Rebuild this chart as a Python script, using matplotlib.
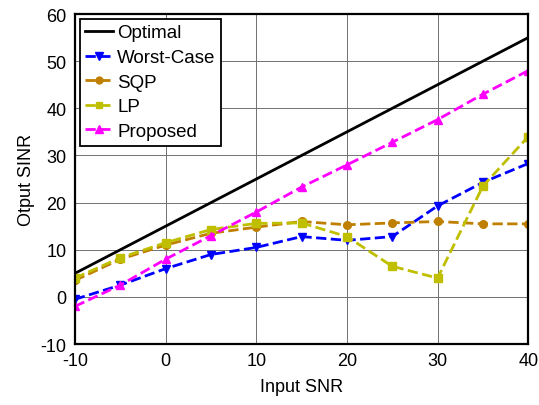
import matplotlib
matplotlib.use("Agg")
import matplotlib.pyplot as plt

plt.rcParams['font.family'] = ['Liberation Sans', 'DejaVu Sans']
plt.rcParams['axes.unicode_minus'] = False

snr = [-10, -5, 0, 5, 10, 15, 20, 25, 30, 35, 40]
optimal = [5, 10, 15, 20, 25, 30, 35, 40, 45, 50, 55]
worst_case = [-0.5, 2.5, 6.0, 9.0, 10.5, 12.8, 12.0, 12.8, 19.3, 24.3, 28.3]
sqp = [3.5, 8.0, 11.0, 13.5, 14.8, 16.0, 15.3, 15.7, 16.0, 15.5, 15.5]
lp = [4.0, 8.3, 11.5, 14.3, 15.6, 15.7, 12.8, 6.5, 4.0, 23.5, 34.0]
proposed = [-2.0, 2.5, 8.0, 13.0, 18.0, 23.3, 28.0, 32.8, 37.6, 43.0, 48.0]

fig = plt.figure(figsize=(5.39, 4.06), dpi=100)
ax = fig.add_axes([0.139, 0.150, 0.841, 0.813])

ax.plot(snr, optimal, color="black", lw=2, label="Optimal")
ax.plot(snr, worst_case, color="#0000ff", ls="--", lw=2, marker="v", ms=6, label="Worst-Case")
ax.plot(snr, sqp, color="#bf7f00", ls="--", lw=2, marker="o", ms=5.5, label="SQP")
ax.plot(snr, lp, color="#bfbf00", ls="--", lw=2, marker="s", ms=5.5, label="LP")
ax.plot(snr, proposed, color="#ff00ff", ls="--", lw=2, marker="^", ms=6, label="Proposed")

ax.set_xlim(-10, 40)
ax.set_ylim(-10, 60)
ax.set_xticks(range(-10, 41, 10))
ax.set_yticks(range(-10, 61, 10))
ax.grid(True, color="#707070", lw=0.7)
ax.tick_params(labelsize=13, direction="in", length=0, pad=6)
for s in ax.spines.values():
    s.set_linewidth(1.6)

ax.set_xlabel("Input SNR", fontsize=13, labelpad=6)
ax.set_ylabel("Otput SINR", fontsize=13, labelpad=4)

leg = ax.legend(loc="upper left", fontsize=13.5, fancybox=False, framealpha=1,
                edgecolor="black", handlelength=1.5, handletextpad=0.2,
                borderaxespad=0.25, labelspacing=0.4, borderpad=0.3,
                markerscale=0.9)
leg.get_frame().set_linewidth(1.3)

fig.savefig("out.png", dpi=100)
